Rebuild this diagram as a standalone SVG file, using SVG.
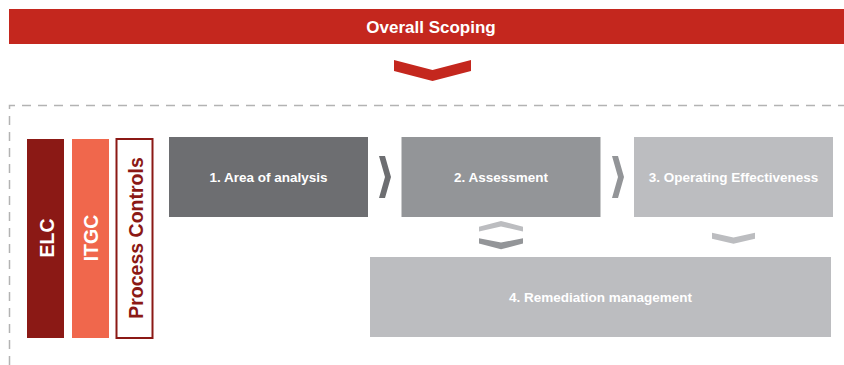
<svg xmlns="http://www.w3.org/2000/svg" width="844" height="365" viewBox="0 0 844 365">
<style>
.t{font-family:"Liberation Sans",Arial,sans-serif;font-weight:bold;fill:#fff;text-anchor:middle}
.s{font-size:13.5px}
.v{font-size:19.5px}
</style>
<rect width="844" height="365" fill="#fff"/>
<g id="overall-scoping">
<rect x="9" y="9" width="835" height="35" fill="#c4271e"/>
<text class="t" x="431" y="33" font-size="17">Overall Scoping</text>
</g>
<path id="scope-border" d="M9.5,365 V105.5 H844" fill="none" stroke="#b3b3b3" stroke-width="1.5" stroke-dasharray="9 7"/>
<g id="elc">
<rect x="27" y="139" width="37" height="199" fill="#8b1915"/>
<text class="t v" transform="translate(53.5,238) rotate(-90)">ELC</text>
</g>
<g id="itgc">
<rect x="72" y="139" width="37" height="199" fill="#f0674c"/>
<text class="t v" transform="translate(98,238) rotate(-90)">ITGC</text>
</g>
<g id="process-controls">
<rect x="116.5" y="139" width="36" height="199" fill="#fff" stroke="#8b1915" stroke-width="2"/>
<text class="t v" style="fill:#8b1915" transform="translate(142.5,238) rotate(-90)">Process Controls</text>
</g>
<g id="area-of-analysis">
<rect x="169" y="137" width="199" height="80" fill="#6d6e71"/>
<text class="t s" x="268.5" y="182">1. Area of analysis</text>
</g>
<g id="assessment">
<rect x="401.5" y="137" width="199" height="80" fill="#939598"/>
<text class="t s" x="501" y="182">2. Assessment</text>
</g>
<g id="operating-effectiveness">
<rect x="634" y="137" width="199" height="80" fill="#bcbdc0"/>
<text class="t s" x="733.5" y="182">3. Operating Effectiveness</text>
</g>
<g id="remediation-management">
<rect x="370" y="257" width="461" height="80" fill="#bcbdc0"/>
<text class="t s" x="600.5" y="302">4. Remediation management</text>
</g>
<g id="connectors">
<polygon points="394,60 432.5,70 471,60 471,71 432.5,81 394,71" fill="#c4271e"/>
<polygon points="379,156 385,156 391,177 385,198 379,198 385,177" fill="#6d6e71"/>
<polygon points="612,156 618,156 624,177 618,198 612,198 618,177" fill="#939598"/>
<polygon points="479,226.7 501,221 523,226.7 523,231.5 501,226.5 479,231.5" fill="#bcbdc0"/>
<polygon points="479,238.3 501,242.5 523,238.3 523,243.5 501,249.3 479,243.5" fill="#939598"/>
<polygon points="712,232.7 733.5,237.5 755,232.7 755,238.7 733.5,243.7 712,238.7" fill="#bcbdc0"/>
</g>
</svg>
